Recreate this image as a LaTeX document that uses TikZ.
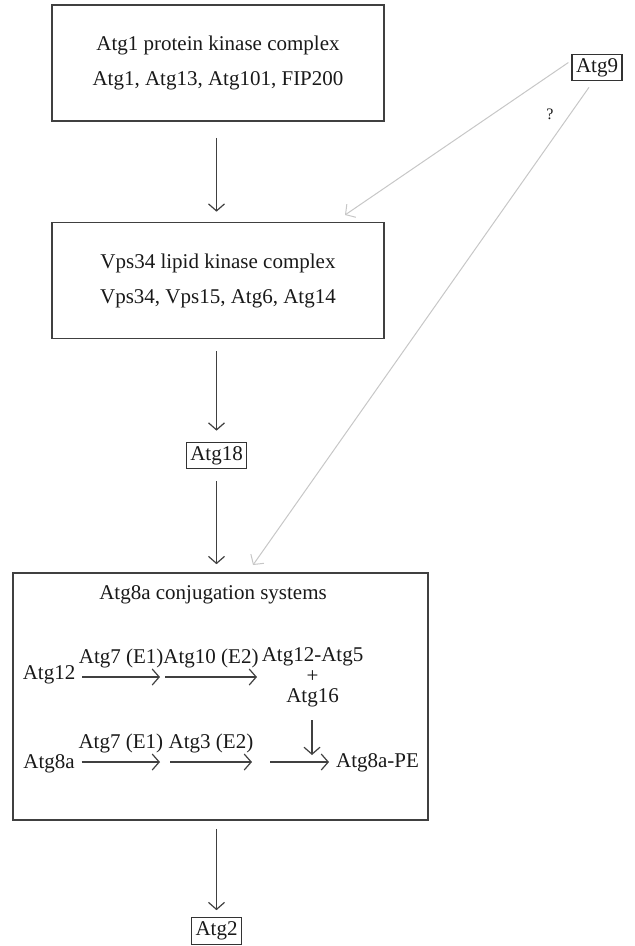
\documentclass[tikz,border=0pt]{standalone}
\usepackage{fontspec}
\setmainfont{Liberation Serif}
\usetikzlibrary{arrows.meta}
\begin{document}
\begin{tikzpicture}[
  x=0.5pt, y=-0.5pt,
  every node/.style={font=\fontsize{10.5}{12}\selectfont, text=black!90},
  box/.style={
    draw=black!75,
    line width=0.8pt,
    align=center,
    minimum width=166pt,
    minimum height=58pt,
    font=\fontsize{10.5}{17.5}\selectfont
  },
  smallbox/.style={draw=black!80, line width=0.6pt, inner sep=2pt, minimum height=12.5pt},
  arrow/.style={-{Straight Barb[length=3.5pt,width=8pt]}, draw=black!75, line width=0.6pt},
  grayarrow/.style={-{Straight Barb[length=3.5pt,width=8pt]}, draw=black!22, line width=0.5pt}
]
\useasboundingbox (0,0) rectangle (634,946);
\node[box] (kinase) at (218,63) {Atg1 protein kinase complex\\Atg1, Atg13, Atg101, FIP200};
\node[box] (vps) at (218,280.5) {Vps34 lipid kinase complex\\Vps34, Vps15, Atg6, Atg14};
\node[smallbox] (atg18) at (216.5,455.5) {Atg18};
\node[box, minimum width=207.5pt, minimum height=123.5pt] (conj) at (220.5,696.5) {};
\node[smallbox] (atg2) at (216.5,931) {Atg2};
\node[smallbox] (atg9) at (597,67.5) {Atg9};
\node[font=\fontsize{8}{9}\selectfont] (q) at (550,114) {?};

\node (title) at (213,595) {Atg8a conjugation systems};
\node (atg12) at (49,675) {Atg12};
\node[align=center, font=\fontsize{10.5}{10.3}\selectfont] (complex) at (312.5,677.5) {Atg12-Atg5\\+\\Atg16};
\node (atg8a) at (49,764) {Atg8a};
\node (atg8pe) at (377.5,763) {Atg8a-PE};
\coordinate (r1a) at (160,677);
\coordinate (r1b) at (165,677);
\coordinate (r1c) at (257,677);
\coordinate (r2a) at (160,762);
\coordinate (r2b) at (170,762);
\coordinate (r2c) at (252,762);
\coordinate (r2d) at (270,762);
\coordinate (down) at (312,755);
\coordinate (vpsin) at (345,215);
\coordinate (conjin) at (253,565);

\draw[arrow, shorten <=8pt, shorten >=5pt] (kinase.south -| atg18) -- (vps.north -| atg18);
\draw[arrow, shorten <=6pt, shorten >=5.5pt] (vps.south -| atg18) -- (atg18);
\draw[arrow, shorten <=6pt, shorten >=4pt] (atg18) -- (conj.north -| atg18);
\draw[arrow, shorten <=4pt, shorten >=3.5pt] (conj.south -| atg2) -- (atg2);
\draw[grayarrow] (atg9.west) ++(-3,-5) -- (vpsin);
\draw[grayarrow] (atg9.south) ++(-8,6) -- (conjin);

\draw[arrow] (atg12.east |- r1a) -- node[above=1pt] {Atg7 (E1)} (r1a);
\draw[arrow] (r1b) -- node[above=1pt] {Atg10 (E2)} (r1c);
\draw[arrow] (atg8a.east |- r2a) -- node[above=1pt] {Atg7 (E1)} (r2a);
\draw[arrow] (r2b) -- node[above=1pt] {Atg3 (E2)} (r2c);
\draw[arrow] (r2d) -- (atg8pe.west |- r2d);
\draw[arrow, shorten <=3pt] (complex.south -| down) -- (down);
\end{tikzpicture}
\end{document}
